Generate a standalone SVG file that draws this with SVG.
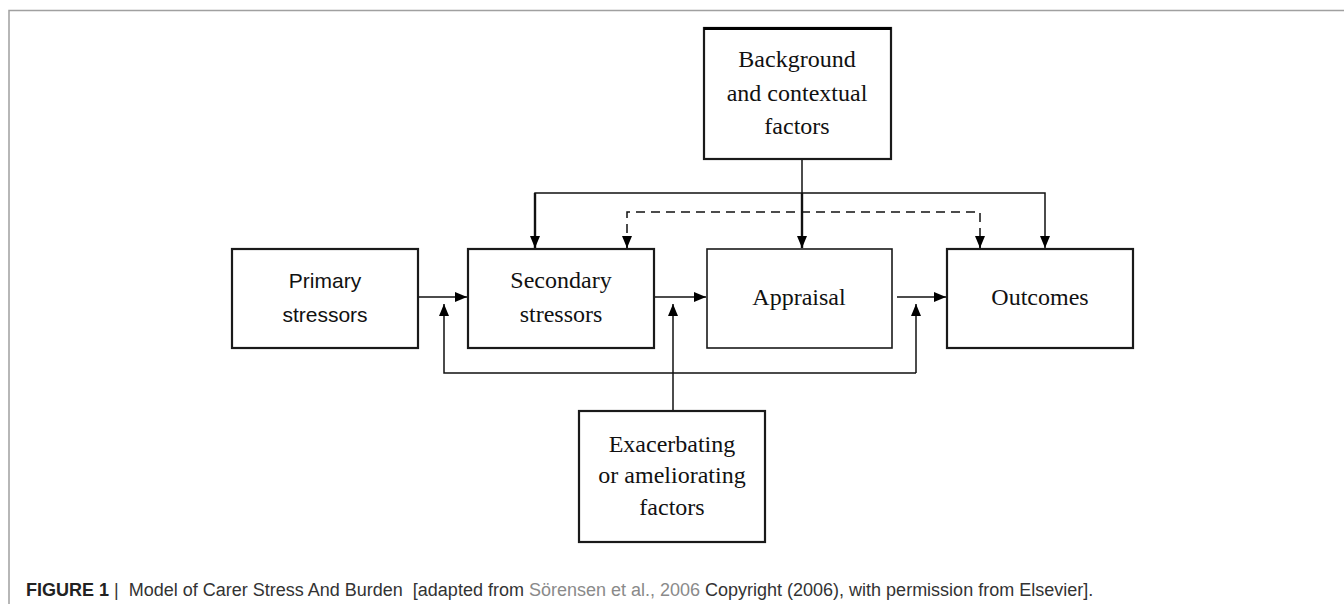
<svg xmlns="http://www.w3.org/2000/svg" width="1344" height="604" viewBox="0 0 1344 604">
<defs>
<marker id="ah" viewBox="0 0 12 12" refX="12" refY="6" markerWidth="12" markerHeight="12" markerUnits="userSpaceOnUse" orient="auto">
<path d="M0,1 L12,6 L0,11 Z" fill="#000"/>
</marker>
<style>
.box{fill:#fff;stroke:#1a1a1a;stroke-width:2.2}
.thin{stroke-width:1.6}
.ser{font-family:"Liberation Serif","Times New Roman",serif;font-size:24px;fill:#111;text-anchor:middle}
.san{font-family:"Liberation Sans",Arial,sans-serif;font-size:21px;fill:#111;text-anchor:middle}
.ln{fill:none;stroke:#111;stroke-width:1.5}
.thick{stroke-width:2.4}
.dash{stroke-dasharray:9 6}
.cap{font-family:"Liberation Sans",Arial,sans-serif;font-size:18px;fill:#333}
</style>
</defs>
<rect width="1344" height="604" fill="#fff"/>
<path d="M9,604 V10.5 H1344" fill="none" stroke="#a0a0a0" stroke-width="1.5"/>

<g id="connectors">
<path class="ln" d="M802,160 V193"/>
<path class="ln thick" d="M802,193 V248" marker-end="url(#ah)"/>
<path class="ln" d="M535,249 V193 H1045 V248" marker-end="url(#ah)"/>
<path class="ln thick" d="M535,193 V248" marker-end="url(#ah)"/>
<path class="ln dash" d="M627,248 V212 H980 V248"/>
<path class="ln" d="M627,238 V248" marker-end="url(#ah)"/>
<path class="ln" d="M980,238 V248" marker-end="url(#ah)"/>
<path class="ln" d="M418,297 H467" marker-end="url(#ah)"/>
<path class="ln" d="M654,297 H706" marker-end="url(#ah)"/>
<path class="ln" d="M897,297 H946" marker-end="url(#ah)"/>
<path class="ln" d="M916,373 H444 V304" marker-end="url(#ah)"/>
<path class="ln" d="M916,373 V304" marker-end="url(#ah)"/>
<path class="ln" d="M673,411 V304" marker-end="url(#ah)"/>
</g>

<g id="background">
<rect class="box" x="704" y="28" width="187" height="131"/>
<line x1="704" y1="28.5" x2="891" y2="28.5" stroke="#000" stroke-width="3"/>
<text class="ser" x="797" y="67">Background</text>
<text class="ser" x="797" y="101">and contextual</text>
<text class="ser" x="797" y="134">factors</text>
</g>
<g id="primary">
<rect class="box" x="232" y="249" width="186" height="99"/>
<text class="san" x="325" y="288">Primary</text>
<text class="san" x="325" y="322">stressors</text>
</g>
<g id="secondary">
<rect class="box" x="468" y="249" width="186" height="99"/>
<text class="ser" x="561" y="288">Secondary</text>
<text class="ser" x="561" y="322">stressors</text>
</g>
<g id="appraisal">
<rect class="box thin" x="707" y="249" width="185" height="99"/>
<text class="ser" x="799" y="305">Appraisal</text>
</g>
<g id="outcomes">
<rect class="box" x="947" y="249" width="186" height="99"/>
<text class="ser" x="1040" y="305">Outcomes</text>
</g>
<g id="exacerbating">
<rect class="box" x="579" y="411" width="186" height="131"/>
<text class="ser" x="672" y="452">Exacerbating</text>
<text class="ser" x="672" y="483">or ameliorating</text>
<text class="ser" x="672" y="515">factors</text>
</g>

<text class="cap" x="26" y="596"><tspan font-weight="bold" fill="#222">FIGURE 1</tspan>&#160;|&#160; Model of Carer Stress And Burden&#160; [adapted from <tspan fill="#8a8a8a">Sörensen et al., 2006</tspan> Copyright (2006), with permission from Elsevier].</text>
</svg>
